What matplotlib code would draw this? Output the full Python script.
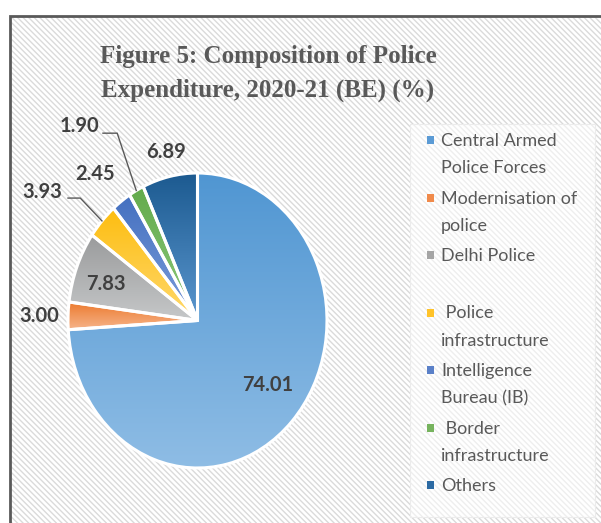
import numpy as np
import matplotlib
matplotlib.use("Agg")
import matplotlib.pyplot as plt
from matplotlib.patches import Rectangle
from matplotlib.colors import LinearSegmentedColormap

# data
categories = ["Central Armed\nPolice Forces", "Modernisation of\npolice", "Delhi Police\n ",
              " Police\ninfrastructure", "Intelligence\nBureau (IB)", " Border\ninfrastructure",
              "Others"]
shares = [74.01, 3.00, 7.83, 3.93, 2.45, 1.90, 6.89]
value_labels = ["74.01", "3.00", "7.83", "3.93", "2.45", "1.90", "6.89"]
title_lines = ["Figure 5: Composition of Police", "Expenditure, 2020-21 (BE) (%)"]

# gradient colours (top -> bottom) and legend colour
top_cols = ["#5096d2", "#ec7a2e", "#9a9b9c", "#fdbd10", "#4470c0", "#63ab4c", "#1c5a90"]
bot_cols = ["#8fbde5", "#f6b58c", "#c6c8c9", "#ffd96e", "#7e9edb", "#8fc97c", "#5b97cf"]
leg_cols = ["#5b9bd5", "#f08a4b", "#a5a5a5", "#ffc32a", "#5a80c8", "#76b35e", "#2c6aa3"]

# label positions in pie units (x, y)
label_pos = [(0.54, -0.44), (-1.22, 0.03), (-0.71, 0.25), (-1.20, 0.87),
             (-0.79, 0.99), (-0.91, 1.32), (-0.24, 1.14)]
leaders = {3: [(-1.0, 0.83), (-0.905, 0.83)], 5: [(-0.73, 1.27), (-0.62, 1.27)]}

W, H = 601, 523
plt.rcParams['hatch.color'] = '#dadada'
plt.rcParams['hatch.linewidth'] = 1.0
fig = plt.figure(figsize=(W / 100, H / 100), dpi=100)

# chart area background with diagonal stripes and border
fig.add_artist(Rectangle((10 / W, -0.05), 1.0, 1 - 16 / H + 0.05, transform=fig.transFigure,
                         facecolor='white', edgecolor='#dadada', lw=0, hatch='\\' * 6, zorder=-3))
fig.add_artist(Rectangle((10 / W, -0.05), 1.0, 1 - 16 / H + 0.05, transform=fig.transFigure,
                         facecolor='none', edgecolor='#595959', lw=2, zorder=-2))

# legend box
fig.add_artist(Rectangle((410 / W, 6 / H), 185 / W, (517 - 124) / H, transform=fig.transFigure,
                         facecolor=(1, 1, 1, 0.55), edgecolor='#ececec', lw=0.8, zorder=-1))

for line, base in zip(title_lines, [63, 97]):
    fig.text(268 / W, 1 - base / H, line, ha='center', va='baseline', fontsize=18,
             fontweight='bold', family='Liberation Serif', color='#595959')

# pie axes, elliptical like the reference
cx, cy, rx, ry = 197.5, 320.5, 129.5, 147.5
ax = fig.add_axes([(cx - rx) / W, (H - cy - ry) / H, 2 * rx / W, 2 * ry / H])
wedges, _ = ax.pie(shares, startangle=90, counterclock=False,
                   wedgeprops=dict(edgecolor='white', linewidth=2.2))
grad = np.linspace(0, 1, 256).reshape(-1, 1)
for w, c1, c2 in zip(wedges, top_cols, bot_cols):
    v = w.get_path().vertices
    cmap = LinearSegmentedColormap.from_list('g', [c1, c2])
    im = ax.imshow(grad, cmap=cmap, extent=(v[:, 0].min(), v[:, 0].max(), v[:, 1].min(), v[:, 1].max()),
                   origin='upper', aspect='auto', zorder=1)
    im.set_clip_path(w)
    w.set_facecolor('none')
    w.set_zorder(2)
ax.set_aspect('auto')
ax.set_xlim(-1, 1)
ax.set_ylim(-1, 1)
ax.axis('off')

for i, (txt, (x, y)) in enumerate(zip(value_labels, label_pos)):
    ax.text(x, y, txt, ha='center', va='center', fontsize=14.5, fontweight='bold',
            family='Lato', color='#404040', zorder=3)
    if i in leaders:
        w = wedges[i]
        mid = np.deg2rad((w.theta1 + w.theta2) / 2)
        pts = leaders[i] + [(np.cos(mid), np.sin(mid))]
        ax.plot([p[0] for p in pts], [p[1] for p in pts], color='#595959', lw=1,
                clip_on=False, zorder=3)

# legend
y0, step = 140, 57.5
for i, (lab, col) in enumerate(zip(categories, leg_cols)):
    yy = y0 + i * step
    fig.add_artist(Rectangle((427 / W, 1 - (yy + 4) / H), 7 / W, 8 / H, transform=fig.transFigure,
                             facecolor=col, edgecolor='none'))
    fig.text(441 / W, 1 - (yy - 7) / H, lab, ha='left', va='top', fontsize=13, family='Lato',
             color='#595959', linespacing=1.85)

fig.savefig("out.png", dpi=100)
